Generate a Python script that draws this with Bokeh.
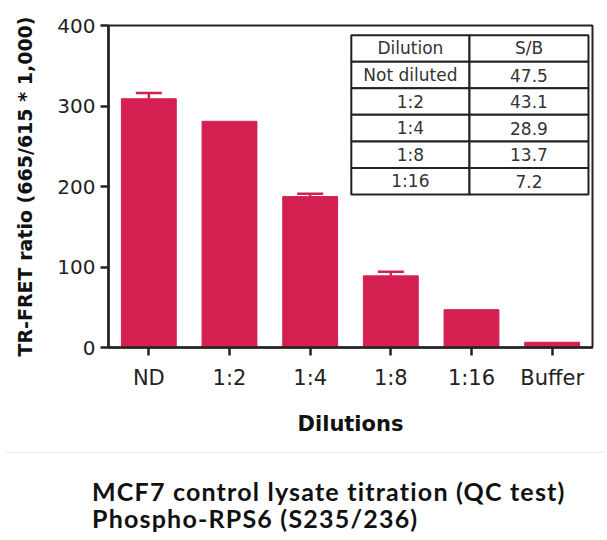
from bokeh.plotting import figure
from bokeh.models import (FactorRange, Range1d, ColumnDataSource, Whisker, TeeHead, Div)
from bokeh.layouts import column
from bokeh.core.properties import value
from bokeh.embed import file_html
from bokeh.resources import INLINE

# ---- data ----
categories = ["ND", "1:2", "1:4", "1:8", "1:16", "Buffer"]
ratios = [309, 281, 187.5, 89, 47, 6.5]
errors = [7, 0, 3.5, 5, 0, 0]

table_header = ["Dilution", "S/B"]
table_dilutions = ["Not diluted", "1:2", "1:4", "1:8", "1:16"]
table_sb = ["47.5", "43.1", "28.9", "13.7", "7.2"]

BAR = "#D42050"
FONT = "DejaVu Sans"

p = figure(x_range=FactorRange(factors=categories, range_padding=0),
           y_range=Range1d(0, 400), width=600, height=447,
           output_backend="svg", toolbar_location=None,
           min_border_left=108, min_border_right=8, min_border_top=25,
           min_border_bottom=100)

src = ColumnDataSource(dict(cat=categories, val=ratios))
p.vbar(x="cat", top="val", width=0.68, source=src, fill_color=BAR,
       line_color=BAR, line_width=1)

ecat = [c for c, e in zip(categories, errors) if e > 0]
eval_ = [v for v, e in zip(ratios, errors) if e > 0]
eup = [v + e for v, e in zip(ratios, errors) if e > 0]
esrc = ColumnDataSource(dict(cat=ecat, low=eval_, up=eup))
w = Whisker(base="cat", lower="low", upper="up", source=esrc,
            line_color=BAR, line_width=2.5,
            upper_head=TeeHead(size=26, line_color=BAR, line_width=2.5),
            lower_head=None)
p.add_layout(w)

# ---- S/B table ----
t_left, t_mid, t_right = 3.01, 4.475, 5.95
t_top, row_h = 388, 33
rows = [table_header] + [[d, s] for d, s in zip(table_dilutions, table_sb)]
ql, qr, qt, qb = [], [], [], []
tx, ty, tt = [], [], []
for i, (a, b) in enumerate(rows):
    top = t_top - i * row_h
    bot = top - row_h
    for l, r, txt in ((t_left, t_mid, a), (t_mid, t_right, b)):
        ql.append(l); qr.append(r); qt.append(top); qb.append(bot)
        tx.append((l + r) / 2); ty.append((top + bot) / 2); tt.append(txt)
p.quad(left=ql, right=qr, top=qt, bottom=qb, fill_color="white",
       line_color="#222222", line_width=2)
p.text(x=tx, y=ty, text=tt, text_align="center", text_baseline="middle",
       text_font=value(FONT), text_font_size="17px", text_color="#333333")

# ---- axes styling ----
p.xgrid.grid_line_color = None
p.ygrid.grid_line_color = None
p.outline_line_color = "#222222"
p.outline_line_width = 2
p.background_fill_color = "white"
p.border_fill_color = "white"

for ax in (p.xaxis[0], p.yaxis[0]):
    ax.axis_line_color = "#222222"
    ax.axis_line_width = 2.5
    ax.major_tick_line_color = "#222222"
    ax.major_tick_line_width = 2.5
    ax.major_tick_in = 0
    ax.major_tick_out = 8
    ax.minor_tick_line_color = None
    ax.major_label_text_font = FONT
    ax.major_label_text_font_size = "20px"
    ax.major_label_text_color = "#222222"
    ax.axis_label_text_font = FONT
    ax.axis_label_text_font_style = "bold"
    ax.axis_label_text_color = "#111111"

p.xaxis.major_label_text_font_size = "21px"
p.yaxis.ticker = [0, 100, 200, 300, 400]
p.yaxis.major_label_standoff = 5
p.yaxis.axis_label = "TR-FRET ratio (665/615 * 1,000)"
p.yaxis.axis_label_text_font_size = "19px"
p.yaxis.axis_label_standoff = 18

p.xaxis.major_label_standoff = 10
p.xaxis.axis_label = "Dilutions"
p.xaxis.axis_label_text_font_size = "21px"
p.xaxis.axis_label_standoff = 19

title = Div(text="MCF7 control lysate titration (QC test)<br>Phospho-RPS6 (S235/236)",
            width=600,
            styles={"font-family": "Lato", "font-weight": "bold",
                    "font-size": "25px", "line-height": "27px",
                    "letter-spacing": "1.2px",
                    "color": "#111111", "padding-left": "87px",
                    "padding-top": "25px", "border-top": "1px solid #eeeeee",
                    "box-sizing": "border-box"})

layout = column(p, title, spacing=0)
open("out.html", "w").write(file_html(layout, INLINE))
